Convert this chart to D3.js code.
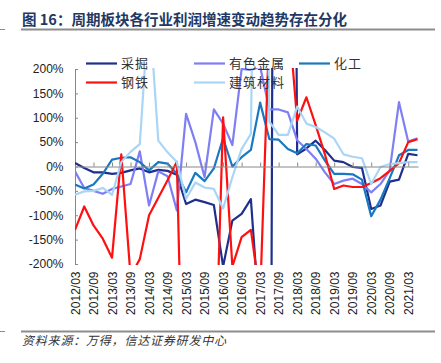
<!DOCTYPE html>
<html>
<head>
<meta charset="utf-8">
<script src="https://cdn.jsdelivr.net/npm/d3@7"></script>
<style>
  body { margin: 0; background: #fff; }
  svg text { font-family: "Liberation Sans", Arial, sans-serif; }
  .cjk { font-family: "Noto Sans CJK SC", sans-serif; }
</style>
</head>
<body>
<div id="chart"></div>
<script>
"use strict";

// quarterly categories
var quarters = ["2012/03","2012/06","2012/09","2012/12","2013/03","2013/06","2013/09","2013/12",
    "2014/03","2014/06","2014/09","2014/12","2015/03","2015/06","2015/09","2015/12",
    "2016/03","2016/06","2016/09","2016/12","2017/03","2017/06","2017/09","2017/12",
    "2018/03","2018/06","2018/09","2018/12","2019/03","2019/06","2019/09","2019/12",
    "2020/03","2020/06","2020/09","2020/12","2021/03","2021/06"];

// profit growth, %; values beyond +-200 run off the plot
var caijue = [7, -3, -12, -12, -15, -13, -8, -4, -12, -7, -9, -17, -77, -68, -73, -79,
    -205, -111, -97, -67, -333, -1500, 4000, 3000, 25, 37, 53, 34, 12, 9, -1, -3,
    -87, -80, -31, -27, 26, 23];
var youse = [-10, -44, -50, -56, -46, -41, -36, 31, -80, -10, -20, -90, 108, 50, -22, 117,
    88, 44, 200, 198, 205, 117, 117, 111, 54, 36, 16, -12, -36, -29, -25, -36,
    -53, -36, -8, 132, 51, 58];
var huagong = [-37, -45, -37, -15, 14, 18, 19, 9, -8, 9, 6, -15, -53, -13, -30, -4,
    58, 0, 19, 34, 131, 56, 55, 36, 27, 46, 43, 12, -15, -15, -16, -27,
    -102, -68, -24, 23, 34, 34];
var gangtie = [-130, -82, -121, -148, -187, 25, -225, -190, -100, -64, -28, 10, -770, -700, -600, -530,
    101, -205, -145, -130, -267, 291, 310, 326, 94, 142, 85, 25, -46, -39, -42, -42,
    -34, -24, -9, 7, 50, 56];
var jiancai = [-58, -51, -50, -44, -58, 9, 30, 46, 333, 53, 29, 9, -66, -33, -43, -46,
    -86, -22, 36, 67, 1400, 92, 65, 65, 123, 88, 81, 70, 57, 25, 20, 17,
    -36, -1, 5, 7, 9, 9];

var seriesNames = ["采掘", "有色金属", "化工", "钢铁", "建筑材料"];
var seriesColors = ["#1f2f8c", "#7f7ff5", "#1a78c2", "#ff1010", "#a9d6f7"];
var yTicks = [-200, -150, -100, -50, 0, 50, 100, 150, 200];

var title = "图 16：周期板块各行业利润增速变动趋势存在分化";
var source = "资料来源：万得，信达证券研发中心";

var W = 441, H = 363;
var plot = {left: 75, right: 417.5, top: 69, bottom: 264};

var svg = d3.select("#chart").append("svg")
    .attr("width", W)
    .attr("height", H);

// title and rules
svg.append("text")
    .attr("class", "cjk")
    .attr("x", 22)
    .attr("y", 25)
    .style("font-size", "14.5px")
    .style("font-weight", "bold")
    .style("fill", "#1f3864")
    .text(title);
svg.append("line").attr("x1", 21).attr("x2", 435).attr("y1", 29.5).attr("y2", 29.5)
    .style("stroke", "#8c8c8c").style("stroke-width", 2);
svg.append("line").attr("x1", 0).attr("x2", 5).attr("y1", 29.5).attr("y2", 29.5)
    .style("stroke", "#8c8c8c").style("stroke-width", 1);
svg.append("line").attr("x1", 21).attr("x2", 435).attr("y1", 331.5).attr("y2", 331.5)
    .style("stroke", "#8c8c8c").style("stroke-width", 2);
svg.append("line").attr("x1", 0).attr("x2", 5).attr("y1", 331.5).attr("y2", 331.5)
    .style("stroke", "#8c8c8c").style("stroke-width", 1);
svg.append("text")
    .attr("class", "cjk")
    .attr("x", 22)
    .attr("y", 345)
    .style("font-size", "12px")
    .style("font-style", "italic")
    .style("letter-spacing", "0.8px")
    .style("fill", "#333")
    .text(source);

var xScale = d3.scalePoint().domain(quarters).range([plot.left, plot.right]);
var yScale = d3.scaleLinear().domain([-200, 200]).range([plot.bottom, plot.top]);

// y axis, ticks pointing inward
var yAxis = d3.axisLeft(yScale)
    .tickValues(yTicks)
    .tickSizeInner(-3)
    .tickSizeOuter(0)
    .tickPadding(11.5)
    .tickFormat(function(d) { return d + "%"; });
var gy = svg.append("g")
    .attr("transform", "translate(" + plot.left + ",0)")
    .call(yAxis);
gy.select(".domain").style("stroke", "#888");
gy.selectAll(".tick line").style("stroke", "#888");
gy.selectAll("text").style("font-size", "12px").style("fill", "#222")
    .style("font-family", "'Liberation Sans', Arial, sans-serif");

// lines, clipped to the plot box
svg.append("clipPath").attr("id", "clip")
    .append("rect")
    .attr("x", plot.left)
    .attr("y", plot.top - 1)
    .attr("width", plot.right - plot.left + 2)
    .attr("height", plot.bottom - plot.top + 2);

var line = d3.line()
    .x(function(d, i) { return xScale(quarters[i]); })
    .y(function(d) { return yScale(d); });

var allSeries = [caijue, youse, huagong, gangtie, jiancai];
var charts = svg.append("g").attr("clip-path", "url(#clip)");

// x axis along 0%, ticks up every second quarter
var evenQuarters = quarters.filter(function(d, i) { return i % 2 === 0; });
var xAxis = d3.axisBottom(xScale)
    .tickValues(evenQuarters.slice(1))
    .tickSizeInner(-4)
    .tickSizeOuter(0)
    .tickFormat("");
var gx = svg.append("g")
    .attr("transform", "translate(0," + yScale(0) + ")")
    .call(xAxis);
gx.select(".domain").style("stroke", "#888").attr("d", "M" + plot.left + ",0.5H" + (plot.right + 1));
gx.selectAll(".tick line").style("stroke", "#888");

charts.selectAll(".line")
    .data(allSeries)
    .enter()
    .append("path")
    .attr("class", "line")
    .attr("d", line)
    .style("fill", "none")
    .style("stroke", function(d, i) { return seriesColors[i]; })
    .style("stroke-width", 2.2)
    .style("stroke-linejoin", "round");

// rotated category labels under the plot
svg.append("g").selectAll("text")
    .data(evenQuarters)
    .enter()
    .append("text")
    .attr("transform", function(d) {
        return "translate(" + (xScale(d) + 4.5) + "," + (plot.bottom + 7.5) + ") rotate(-90)";
    })
    .style("text-anchor", "end")
    .style("font-size", "12px")
    .style("fill", "#222")
    .text(function(d) { return d; });

// legend
var legendPos = [[86, 63.5], [194, 63.5], [299, 63.5], [86, 82.5], [194, 82.5]];
var legend = svg.append("g").selectAll("g")
    .data(seriesNames)
    .enter()
    .append("g")
    .attr("transform", function(d, i) { return "translate(" + legendPos[i][0] + "," + legendPos[i][1] + ")"; });
legend.append("line")
    .attr("x1", 0).attr("x2", 31)
    .style("stroke", function(d, i) { return seriesColors[i]; })
    .style("stroke-width", 2.2);
legend.append("text")
    .attr("class", "cjk")
    .attr("x", 35)
    .attr("y", 4.5)
    .style("font-size", "13px")
    .style("letter-spacing", "1px")
    .style("fill", "#333")
    .text(function(d) { return d; });
</script>
</body>
</html>
